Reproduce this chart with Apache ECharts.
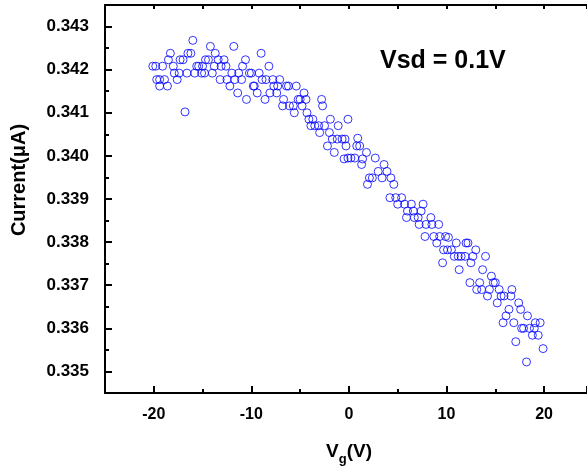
<!DOCTYPE html>
<html>
<head>
<meta charset="utf-8">
<script src="https://cdn.jsdelivr.net/npm/echarts@6/dist/echarts.min.js"></script>
<style>html,body{margin:0;padding:0;background:#fff;}#c{width:587px;height:468px;}</style>
</head>
<body>
<div id="c"></div>
<script>
var vg = [
-20.1,-19.8,-19.7,-19.4,-19.4,-19.1,-18.9,-18.6,-18.5,-18.3,
-18.0,-17.9,-17.6,-17.4,-17.3,-17.0,-16.8,-16.6,-16.5,-16.2,
-16.0,-15.8,-15.6,-15.4,-15.1,-15.0,-14.8,-14.7,-14.4,-14.2,
-14.0,-13.8,-13.7,-13.4,-13.2,-13.1,-12.8,-12.6,-12.5,-12.2,
-12.0,-11.8,-11.7,-11.4,-11.3,-11.0,-10.9,-10.6,-10.5,-10.2,
-10.0,-9.8,-9.7,-9.4,-9.2,-9.0,-8.9,-8.6,-8.5,-8.2,
-8.1,-7.8,-7.7,-7.4,-7.3,-7.1,-6.8,-6.7,-6.4,-6.2,
-6.1,-5.7,-5.6,-5.4,-5.2,-5.0,-4.8,-4.6,-4.4,-4.3,
-4.1,-3.9,-3.7,-3.5,-3.1,-3.0,-2.8,-2.7,-2.5,-2.2,
-2.0,-1.9,-1.7,-1.5,-1.2,-1.1,-0.7,-0.5,-0.4,-0.3,
-0.1,-0.1,0.2,0.6,0.8,0.9,1.1,1.3,1.4,1.8,
1.9,2.1,2.4,2.7,3.0,3.4,3.6,3.9,4.2,4.3,
4.6,4.8,5.0,5.4,5.7,6.0,5.9,6.4,6.6,6.7,
7.1,7.2,7.4,7.6,7.8,7.9,8.4,8.5,8.7,9.0,
9.2,9.3,9.6,9.7,9.9,10.1,10.2,10.5,10.8,11.0,
11.2,11.3,11.5,11.9,12.0,12.2,12.4,12.5,12.7,13.0,
13.1,13.4,13.6,13.7,14.0,14.2,14.4,14.6,14.8,15.0,
15.2,15.4,15.6,15.9,15.8,16.1,16.4,16.6,16.7,16.9,
17.1,17.4,17.6,17.7,17.9,18.2,18.3,18.5,18.8,19.0,
19.1,19.4,19.6,19.9
];
var current = [
0.34208,0.34208,0.34177,0.34177,0.34162,0.34208,0.34177,0.34162,0.34223,0.34238,
0.34208,0.34192,0.34177,0.34192,0.34223,0.34223,0.34102,0.34192,0.34238,0.34238,
0.34268,0.34192,0.34208,0.34208,0.34192,0.34208,0.34192,0.34223,0.34223,0.34254,
0.34192,0.34208,0.34238,0.34223,0.34177,0.34208,0.34223,0.34208,0.34177,0.34162,
0.34192,0.34254,0.34177,0.34146,0.34192,0.34177,0.34208,0.34223,0.34131,0.34192,
0.34192,0.34162,0.34162,0.34146,0.34192,0.34238,0.34177,0.34131,0.34177,0.34208,
0.34146,0.34177,0.34162,0.34146,0.34162,0.34177,0.34116,0.34131,0.34162,0.34162,
0.34116,0.34116,0.34100,0.34162,0.34131,0.34131,0.34116,0.34146,0.34131,0.34100,
0.34085,0.34070,0.34085,0.34070,0.34070,0.34054,0.34131,0.34116,0.34070,0.34023,
0.34054,0.34085,0.34039,0.34008,0.34039,0.34070,0.34039,0.33993,0.34039,0.34023,
0.34085,0.33995,0.33995,0.33995,0.34023,0.34041,0.34023,0.33980,0.33993,0.34008,
0.33934,0.33949,0.33949,0.33995,0.33964,0.33949,0.33980,0.33964,0.33903,0.33949,
0.33934,0.33903,0.33888,0.33903,0.33888,0.33872,0.33857,0.33888,0.33872,0.33857,
0.33857,0.33841,0.33872,0.33888,0.33813,0.33841,0.33857,0.33841,0.33813,0.33798,
0.33841,0.33813,0.33752,0.33782,0.33813,0.33782,0.33811,0.33782,0.33767,0.33798,
0.33767,0.33736,0.33767,0.33767,0.33798,0.33798,0.33706,0.33752,0.33767,0.33782,
0.33690,0.33706,0.33690,0.33736,0.33767,0.33675,0.33690,0.33721,0.33706,0.33706,
0.33659,0.33690,0.33675,0.33675,0.33613,0.33629,0.33644,0.33675,0.33690,0.33613,
0.33569,0.33659,0.33644,0.33600,0.33600,0.33522,0.33629,0.33600,0.33584,0.33600,
0.33613,0.33584,0.33613,0.33553
];
var yDecimals = 3;

var FONT = "'Liberation Sans', Arial, sans-serif";
var pts = vg.map(function (v, i) { return [v, current[i]]; });

var chart = echarts.init(document.getElementById('c'), null, { renderer: 'canvas' });
chart.setOption({
  animation: false,
  grid: { left: 105, top: 5, right: 0, bottom: 75, containLabel: false, outerBoundsMode: 'none' },
  xAxis: [{
    type: 'value', min: -25, max: 24.4, splitNumber: 5, position: 'bottom',
    axisLine: { show: true, onZero: false, lineStyle: { color: '#000', width: 2 } },
    axisTick: { show: true, inside: true, length: 7, lineStyle: { color: '#000', width: 2 } },
    minorTick: { show: true, splitNumber: 2, length: 4, lineStyle: { color: '#000', width: 2 } },
    splitLine: { show: false },
    axisLabel: {
      show: true, showMinLabel: false, showMaxLabel: false,
      margin: 14, color: '#000', fontSize: 16, fontWeight: 'bold', fontFamily: FONT
    }
  }, {
    type: 'value', min: -25, max: 24.4, splitNumber: 10, position: 'top',
    axisLine: { show: true, onZero: false, lineStyle: { color: '#000', width: 2 } },
    axisTick: { show: true, inside: true, length: 4, lineStyle: { color: '#000', width: 2 } },
    splitLine: { show: false },
    axisLabel: { show: false }
  }],
  yAxis: {
    type: 'value', min: 0.3345, max: 0.3435, splitNumber: 9, position: 'left',
    axisLine: { show: true, onZero: false, lineStyle: { color: '#000', width: 2 } },
    axisTick: { show: true, inside: true, length: 7, lineStyle: { color: '#000', width: 2 } },
    minorTick: { show: true, splitNumber: 2, length: 4, lineStyle: { color: '#000', width: 2 } },
    splitLine: { show: false },
    axisLabel: {
      show: true, showMinLabel: false, showMaxLabel: false,
      margin: 16, color: '#000', fontSize: 17, fontWeight: 'bold', fontFamily: FONT,
      formatter: function (v) { return Number(v).toFixed(yDecimals); }
    }
  },
  graphic: [{
    type: 'text', x: 19, y: 180, rotation: Math.PI / 2,
    style: { text: 'Current(\u03bcA)', fontSize: 20, fontWeight: 'bold', fontFamily: FONT, fill: '#000', align: 'center', verticalAlign: 'middle' }
  }, {
    type: 'text', x: 380, y: 61,
    style: { text: 'Vsd = 0.1V', fontSize: 25, fontWeight: 'bold', fontFamily: FONT, fill: '#000', align: 'left', verticalAlign: 'middle' }
  }, {
    type: 'text', x: 349, y: 452,
    style: {
      text: '{a|V}{b|g}{a|(V)}', align: 'center', verticalAlign: 'middle',
      rich: {
        a: { fontSize: 19, fontWeight: 'bold', fontFamily: FONT, fill: '#000' },
        b: { fontSize: 13, fontWeight: 'bold', fontFamily: FONT, fill: '#000', padding: [14, 0, 0, 0] }
      }
    }
  }],
  series: [{
    type: 'scatter', data: pts, symbol: 'circle', symbolSize: 8,
    itemStyle: { color: 'rgba(0,0,0,0)', borderColor: '#0000ff', borderWidth: 1 }
  }]
});
</script>
</body>
</html>
